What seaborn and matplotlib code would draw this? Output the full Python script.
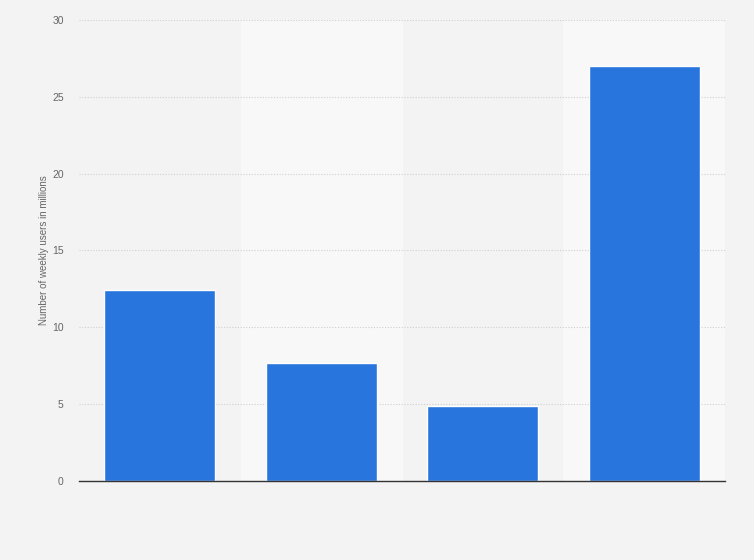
import pandas as pd
import matplotlib
matplotlib.use("Agg")
import matplotlib.pyplot as plt
import seaborn as sns

# Values (weekly users, millions)
categories = ["Category 1", "Category 2", "Category 3", "Category 4"]
users = [12.4, 7.7, 4.9, 27.0]
y_ticks = [0, 5, 10, 15, 20, 25, 30]

df = pd.DataFrame({"category": categories, "users": users})

sns.set_style("white")
plt.rcParams["font.family"] = ["Liberation Sans", "DejaVu Sans"]

fig = plt.figure(figsize=(7.54, 5.6), dpi=100)
fig.patch.set_facecolor("#f3f3f3")
ax = fig.add_axes([0.1048, 0.1411, 0.8567, 0.8232])
ax.set_facecolor("#f3f3f3")

# alternating column bands
for i in range(len(categories)):
    if i % 2 == 1:
        ax.axvspan(i - 0.5, i + 0.5, color="#f8f8f8", zorder=0)

sns.barplot(data=df, x="category", y="users", color="#2876dd", width=0.69,
            saturation=1, ax=ax, zorder=3)

ax.set_xlim(-0.5, len(categories) - 0.5)
ax.set_ylim(0, 30)
ax.set_yticks(y_ticks)
ax.yaxis.grid(True, linestyle=(0, (1, 1.5)), color="#cfcfcf", linewidth=0.8, zorder=1)
ax.set_axisbelow(True)

ax.set_xticks(range(len(categories)))
ax.set_xticklabels([])
ax.tick_params(axis="x", length=0)
ax.tick_params(axis="y", length=0, labelsize=7.5, labelcolor="#666666", pad=11)

for s in ["top", "right", "left"]:
    ax.spines[s].set_visible(False)
ax.spines["bottom"].set_color("#333333")
ax.spines["bottom"].set_linewidth(1)
ax.spines["bottom"].set_zorder(5)

ax.set_xlabel("")
ax.set_ylabel("Number of weekly users in millions", fontsize=7, color="#666666", labelpad=2)

fig.savefig("out.png", dpi=100, facecolor=fig.get_facecolor())
